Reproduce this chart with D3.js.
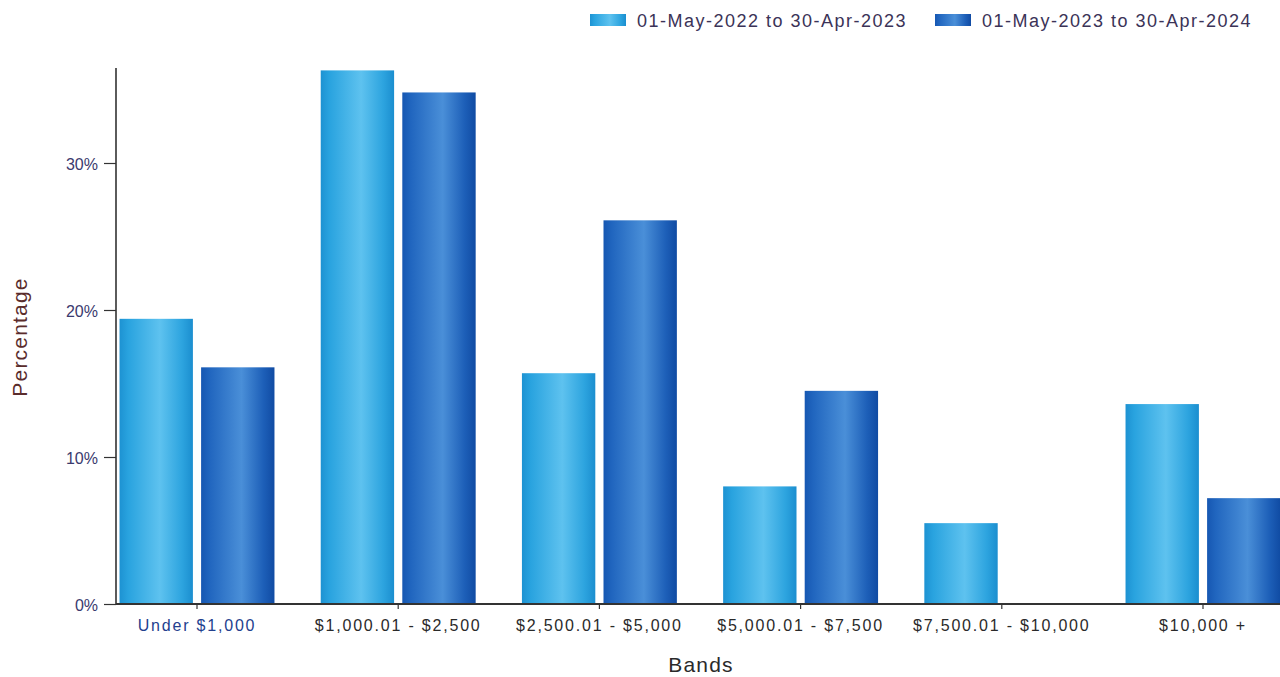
<!DOCTYPE html>
<html>
<head>
<meta charset="utf-8">
<script src="https://cdn.jsdelivr.net/npm/d3@7"></script>
<style>
  html, body { margin: 0; padding: 0; background: #fff; }
  svg { display: block; font-family: "Liberation Sans", Arial, sans-serif; }
</style>
</head>
<body>
<svg id="chart" width="1280" height="677"></svg>
<script>
// Income bands and share of accounts (%) for each reporting period
const bands = ["Under $1,000", "$1,000.01 - $2,500", "$2,500.01 - $5,000", "$5,000.01 - $7,500", "$7,500.01 - $10,000", "$10,000 +"];
const periods = ["01-May-2022 to 30-Apr-2023", "01-May-2023 to 30-Apr-2024"];
const period2022 = [19.4, 36.3, 15.7, 8.0, 5.5, 13.6];
const period2023 = [16.1, 34.8, 26.1, 14.5, 0, 7.2];
const yTicks = [0, 10, 20, 30];

const svg = d3.select("#chart");
const defs = svg.append("defs");

// Cylinder-like horizontal gradients for the two series
function gradient(id, stops) {
  const g = defs.append("linearGradient").attr("id", id)
    .attr("x1", "0%").attr("x2", "100%").attr("y1", "0%").attr("y2", "0%");
  stops.forEach(([o, c]) => g.append("stop").attr("offset", o).attr("stop-color", c));
}
gradient("gLight", [["0%", "#1d92d2"], ["12%", "#29a3df"], ["55%", "#5ec2ef"], ["85%", "#2da4df"], ["100%", "#1b8ecf"]]);
gradient("gDark", [["0%", "#1657b2"], ["12%", "#2166bf"], ["55%", "#4a8fd8"], ["85%", "#1d5fb8"], ["100%", "#104ba3"]]);
const fills = ["url(#gLight)", "url(#gDark)"];

const margin = { left: 116, bottom: 604, top: 68 };

const x0 = d3.scaleBand().domain(bands).range([96.4, 1303.6]).paddingInner(0.22).paddingOuter(0.11);
const x1 = d3.scaleBand().domain([0, 1]).range([0, x0.bandwidth()]).paddingInner(0.076);
const y = d3.scaleLinear().domain([0, 10]).range([margin.bottom, margin.bottom - 147]);

const rows = bands.map((b, i) => ({ band: b, values: [period2022[i], period2023[i]] }));

// Bars
const groups = svg.append("g").selectAll("g").data(rows).join("g")
  .attr("transform", d => `translate(${x0(d.band)},0)`);
groups.selectAll("rect").data(d => d.values.map((v, k) => ({ v, k }))).join("rect")
  .filter(d => d.v > 0)
  .attr("x", d => x1(d.k) + 1)
  .attr("width", x1.bandwidth() - 2)
  .attr("y", d => y(d.v))
  .attr("height", d => y(0) - y(d.v))
  .attr("fill", d => fills[d.k]);

// Y axis
const yAxis = svg.append("g").attr("transform", `translate(${margin.left},0)`)
  .call(d3.axisLeft(y).tickValues(yTicks).tickFormat(d => d + "%").tickSize(12).tickPadding(6));
yAxis.select(".domain").remove();
yAxis.selectAll(".tick line").attr("stroke", "#333").attr("stroke-width", 1.2);
yAxis.selectAll(".tick text").attr("fill", "#3a3a6e").attr("font-size", 16)
  .attr("font-family", "Liberation Sans, Arial, sans-serif").attr("dy", "0.4em");
svg.append("line").attr("x1", margin.left).attr("x2", margin.left)
  .attr("y1", margin.top).attr("y2", margin.bottom + 1)
  .attr("stroke", "#333").attr("stroke-width", 1.6);

// X axis
const xAxis = svg.append("g").attr("transform", `translate(0,${margin.bottom})`)
  .call(d3.axisBottom(x0).tickSize(5).tickPadding(11).tickSizeOuter(0));
xAxis.select(".domain").remove();
xAxis.selectAll(".tick line").attr("stroke", "#333").attr("stroke-width", 1.2);
xAxis.selectAll(".tick text").attr("fill", (d, i) => i === 0 ? "#23408e" : "#2a2a2a")
  .attr("font-size", 16).attr("letter-spacing", "1.8px")
  .attr("font-family", "Liberation Sans, Arial, sans-serif");
svg.append("line").attr("x1", margin.left).attr("x2", 1280)
  .attr("y1", margin.bottom).attr("y2", margin.bottom)
  .attr("stroke", "#333").attr("stroke-width", 1.8);

// Axis titles
svg.append("text").attr("x", 701).attr("y", 672).attr("text-anchor", "middle")
  .attr("font-size", 21).attr("letter-spacing", "1.2px").attr("fill", "#2a2a2a").text("Bands");
svg.append("text").attr("transform", "translate(27,337) rotate(-90)").attr("text-anchor", "middle")
  .attr("font-size", 21).attr("letter-spacing", "1.2px").attr("fill", "#5a2c2c").text("Percentage");

// Legend
const legendX = [590, 935];
const legend = svg.append("g").selectAll("g").data(periods).join("g")
  .attr("transform", (d, i) => `translate(${legendX[i]},0)`);
legend.append("rect").attr("x", 0).attr("y", 14).attr("width", 36).attr("height", 12)
  .attr("fill", (d, i) => fills[i]);
legend.append("text").attr("x", 47).attr("y", 27).attr("font-size", 18)
  .attr("letter-spacing", "1.5px").attr("fill", "#3b3357")
  .text(d => d);
</script>
</body>
</html>
